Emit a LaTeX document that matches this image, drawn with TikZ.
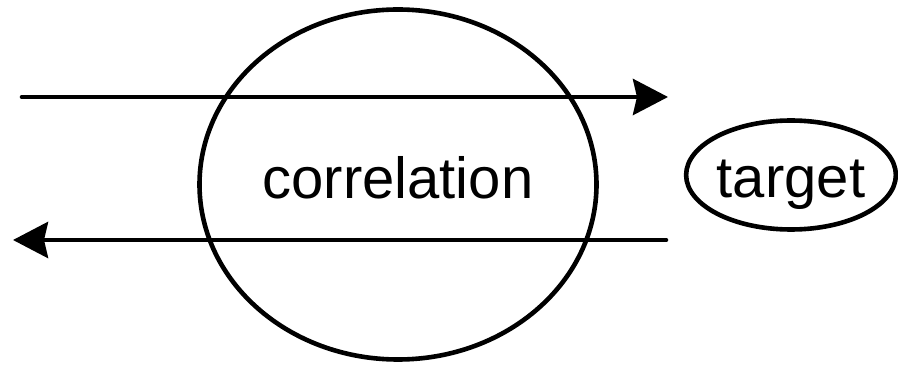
\documentclass[tikz,border=0pt]{standalone}
\usepackage{fontspec}
\setmainfont{Liberation Sans}
\usetikzlibrary{positioning,arrows.meta,shapes.geometric}

\begin{document}
\begin{tikzpicture}[x=1pt, y=-1pt, line width=4.6pt,
    blob/.style={ellipse, draw, inner sep=0pt, font=\fontsize{58}{60}\selectfont},
    flow/.style={line cap=round, -{Stealth[length=35pt, width=36pt, inset=4pt]}}]
    \useasboundingbox (0,0) rectangle (898,366);
    \node[blob, minimum width=397pt, minimum height=350pt, text height=42pt, text depth=13pt] (corr) at (398,184.5) {correlation};
    \node[blob, minimum width=207pt, minimum height=109pt, text height=46pt, text depth=0pt] (target) at (791,175) {target};
    % forward and backward passes
    \coordinate (fwdin) at (22,97);
    \coordinate (fwdout) at (668,97);
    \coordinate (bwdin) at (666,240);
    \coordinate (bwdout) at (13,240);
    \draw[flow] (fwdin) -- (fwdout);
    \draw[flow] (bwdin) -- (bwdout);
\end{tikzpicture}
\end{document}
